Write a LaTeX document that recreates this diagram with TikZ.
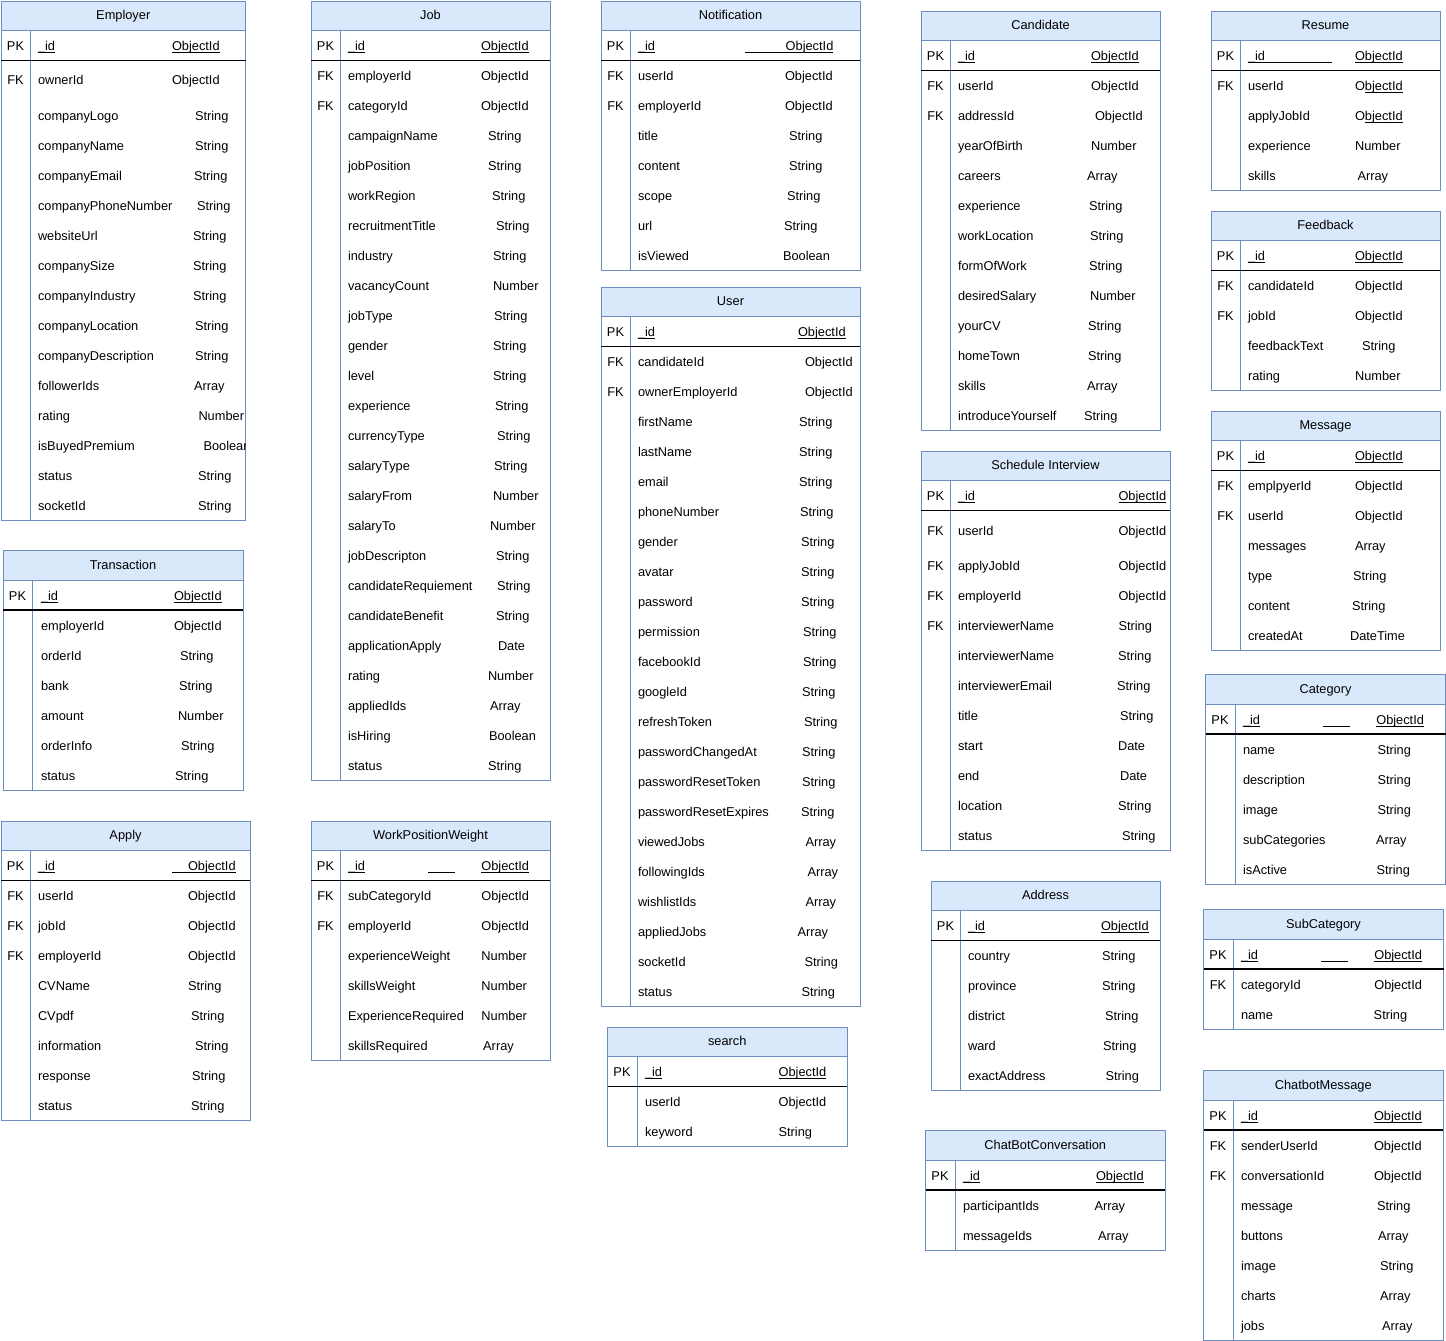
\documentclass[tikz,border=0pt]{standalone}
\usepackage{fontspec}
\setmainfont{Liberation Sans}
\definecolor{hdr}{HTML}{DAE8FC}
\definecolor{bord}{HTML}{6C8EBF}
\newcommand\ul[1]{\setbox0\hbox{#1}\rlap{\rule[-2.3pt]{\wd0}{0.9pt}}\box0}
\tikzset{
 tx/.style={inner sep=0pt,outer sep=0pt,font=\fontsize{12.8pt}{15pt}\selectfont,text=black},
 bordline/.style={draw=bord,line width=1pt},
 sepline/.style={draw=black,line width=1.2pt},
 ulline/.style={draw=black,line width=0.9pt},
}
\newcounter{rc}
\newcommand\tbl[7]{%
 \def\tname{#1}\def\kx{#2+14.5}\def\nx{#7}%
 \fill[hdr] (#2,#3) rectangle (#4,#3+29.5);
 \draw[bordline] (#2,#3) rectangle (#4,#5);
 \draw[bordline] (#2,#3+29.5) -- (#4,#3+29.5);
 \draw[bordline] (#2+29.5,#3+29.5) -- (#2+29.5,#5);
 \draw[sepline] (#2,#3+59.5) -- (#4,#3+59.5);
 \node[tx,anchor=base] (#1) at ({(#2+#4)/2},#3+18.8) {#6};}
\newcommand\rw[5]{%
 \stepcounter{rc}%
 \node[tx,anchor=base west] (\tname-n\therc) at (\nx,#2+5.3) {#3};
 \node[tx,anchor=base west] (\tname-t\therc) at (#4,#2+5.3) {#5};
 \ifx\relax#1\relax\else\node[tx,anchor=base] (\tname-k\therc) at (\kx,#2+5.3) {#1};\fi}
\newcommand\pkid{\ul{\_id}}
\newcommand\oid{\ul{ObjectId}}
\begin{document}
\begin{tikzpicture}[x=1pt,y=-1pt]
\useasboundingbox[fill=white] (0,0) rectangle (1446,1341);
% Employer
\tbl{E}{1}{1}{245.5}{520}{Employer}{38}
\rw{PK}{45}{\pkid}{172}{\oid}
\rw{FK}{79}{ownerId}{172}{ObjectId}
\rw{}{115}{companyLogo}{195}{String}
\rw{}{145}{companyName}{195}{String}
\rw{}{175}{companyEmail}{194}{String}
\rw{}{205}{companyPhoneNumber}{197}{String}
\rw{}{235}{websiteUrl}{193}{String}
\rw{}{265}{companySize}{193}{String}
\rw{}{295}{companyIndustry}{193}{String}
\rw{}{325}{companyLocation}{195}{String}
\rw{}{355}{companyDescription}{195}{String}
\rw{}{385}{followerIds}{194}{Array}
\rw{}{415}{rating}{198.5}{Number}
\begin{scope}
\clip (1,1) rectangle (245,520);
\rw{}{445}{isBuyedPremium}{203.5}{Boolean}
\end{scope}
\rw{}{475}{status}{198}{String}
\rw{}{505}{socketId}{198}{String}
% Job
\tbl{J}{311}{1}{550}{780}{Job}{348}
\rw{PK}{45}{\pkid}{481}{\oid}
\rw{FK}{75}{employerId}{481}{ObjectId}
\rw{FK}{105}{categoryId}{481}{ObjectId}
\rw{}{135}{campaignName}{488}{String}
\rw{}{165}{jobPosition}{488}{String}
\rw{}{195}{workRegion}{492}{String}
\rw{}{225}{recruitmentTitle}{496}{String}
\rw{}{255}{industry}{493}{String}
\rw{}{285}{vacancyCount}{493}{Number}
\rw{}{315}{jobType}{494}{String}
\rw{}{345}{gender}{493}{String}
\rw{}{375}{level}{493}{String}
\rw{}{405}{experience}{495}{String}
\rw{}{435}{currencyType}{497}{String}
\rw{}{465}{salaryType}{494}{String}
\rw{}{495}{salaryFrom}{493}{Number}
\rw{}{525}{salaryTo}{490}{Number}
\rw{}{555}{jobDescripton}{496}{String}
\rw{}{585}{candidateRequiement}{497}{String}
\rw{}{615}{candidateBenefit}{496}{String}
\rw{}{645}{applicationApply}{498}{Date}
\rw{}{675}{rating}{488}{Number}
\rw{}{705}{appliedIds}{490}{Array}
\rw{}{735}{isHiring}{489}{Boolean}
\rw{}{765}{status}{488}{String}
% Notification
\tbl{N}{601}{1}{860}{270}{Notification}{638}
\rw{PK}{45}{\pkid}{745}{\ul{\hspace{40.7pt}ObjectId}}
\rw{FK}{75}{userId}{785}{ObjectId}
\rw{FK}{105}{employerId}{785}{ObjectId}
\rw{}{135}{title}{789}{String}
\rw{}{165}{content}{789}{String}
\rw{}{195}{scope}{787}{String}
\rw{}{225}{url}{784}{String}
\rw{}{255}{isViewed}{783}{Boolean}
% User
\tbl{U}{601}{287}{860}{1006}{User}{638}
\rw{PK}{331}{\pkid}{798}{\oid}
\rw{FK}{361}{candidateId}{805}{ObjectId}
\rw{FK}{391}{ownerEmployerId}{805}{ObjectId}
\rw{}{421}{firstName}{799}{String}
\rw{}{451}{lastName}{799}{String}
\rw{}{481}{email}{799}{String}
\rw{}{511}{phoneNumber}{800}{String}
\rw{}{541}{gender}{801}{String}
\rw{}{571}{avatar}{801}{String}
\rw{}{601}{password}{801}{String}
\rw{}{631}{permission}{803}{String}
\rw{}{661}{facebookId}{803}{String}
\rw{}{691}{googleId}{802}{String}
\rw{}{721}{refreshToken}{804}{String}
\rw{}{751}{passwordChangedAt}{802}{String}
\rw{}{781}{passwordResetToken}{802}{String}
\rw{}{811}{passwordResetExpires}{801}{String}
\rw{}{841}{viewedJobs}{805.5}{Array}
\rw{}{871}{followingIds}{807.5}{Array}
\rw{}{901}{wishlistIds}{805.5}{Array}
\rw{}{931}{appliedJobs}{797.5}{Array}
\rw{}{961}{socketId}{804.5}{String}
\rw{}{991}{status}{801.5}{String}
% Candidate
\tbl{C}{921}{11}{1160}{430}{Candidate}{958}
\rw{PK}{55}{\pkid}{1091}{\oid}
\rw{FK}{85}{userId}{1091}{ObjectId}
\rw{FK}{115}{addressId}{1095}{ObjectId}
\rw{}{145}{yearOfBirth}{1091}{Number}
\rw{}{175}{careers}{1087}{Array}
\rw{}{205}{experience}{1089}{String}
\rw{}{235}{workLocation}{1090}{String}
\rw{}{265}{formOfWork}{1089}{String}
\rw{}{295}{desiredSalary}{1090}{Number}
\rw{}{325}{yourCV}{1088}{String}
\rw{}{355}{homeTown}{1088}{String}
\rw{}{385}{skills}{1087}{Array}
\rw{}{415}{introduceYourself}{1084}{String}
% Resume
\tbl{R}{1211}{11}{1440}{190}{Resume}{1248}
\rw{PK}{55}{\ul{\makebox[83.5pt][l]{\_id}}}{1355}{\oid}
\rw{FK}{85}{userId}{1355}{O\ul{bjectId}}
\rw{}{115}{applyJobId}{1355}{O\ul{bjectId}}
\rw{}{145}{experience}{1355}{Number}
\rw{}{175}{skills}{1357.5}{Array}
% Feedback
\tbl{F}{1211}{211}{1440}{390}{Feedback}{1248}
\rw{PK}{255}{\pkid}{1355}{\oid}
\rw{FK}{285}{candidateId}{1355}{ObjectId}
\rw{FK}{315}{jobId}{1355}{ObjectId}
\rw{}{345}{feedbackText}{1362}{String}
\rw{}{375}{rating}{1355}{Number}
% Message
\tbl{M}{1211}{411}{1440}{650}{Message}{1248}
\rw{PK}{455}{\pkid}{1355}{\oid}
\rw{FK}{485}{emplpyerId}{1355}{ObjectId}
\rw{FK}{515}{userId}{1355}{ObjectId}
\rw{}{545}{messages}{1355}{Array}
\rw{}{575}{type}{1353}{String}
\rw{}{605}{content}{1352}{String}
\rw{}{635}{createdAt}{1350}{DateTime}
% Category
\tbl{Cat}{1205.5}{674.5}{1445.5}{884}{Category}{1243}
\rw{PK}{719}{\pkid}{1376.3}{\oid}
\draw[ulline] (1323,719+7.45) -- (1349.5,719+7.45);
\rw{}{749}{name}{1377.5}{String}
\rw{}{779}{description}{1377.5}{String}
\rw{}{809}{image}{1377.5}{String}
\rw{}{839}{subCategories}{1376}{Array}
\rw{}{869}{isActive}{1376.5}{String}
% SubCategory
\tbl{S}{1203.5}{909.5}{1443.5}{1029}{SubCategory}{1241}
\rw{PK}{954}{\pkid}{1374.3}{\oid}
\draw[ulline] (1321,954+7.45) -- (1348,954+7.45);
\rw{FK}{984}{categoryId}{1374.3}{ObjectId}
\rw{}{1014}{name}{1373.7}{String}
% ChatbotMessage
\tbl{CM}{1203.5}{1070.5}{1443}{1340}{ChatbotMessage}{1241}
\rw{PK}{1115}{\pkid}{1374}{\oid}
\rw{FK}{1145}{senderUserId}{1374}{ObjectId}
\rw{FK}{1175}{conversationId}{1374}{ObjectId}
\rw{}{1205}{message}{1377}{String}
\rw{}{1235}{buttons}{1378}{Array}
\rw{}{1265}{image}{1380}{String}
\rw{}{1295}{charts}{1380}{Array}
\rw{}{1325}{jobs}{1382}{Array}
% Schedule Interview
\tbl{SI}{921}{451}{1170}{850}{Schedule Interview}{958}
\rw{PK}{495}{\pkid}{1118.5}{\oid}
\rw{FK}{530}{userId}{1118.5}{ObjectId}
\rw{FK}{565}{applyJobId}{1118.5}{ObjectId}
\rw{FK}{595}{employerId}{1118.5}{ObjectId}
\rw{FK}{625}{interviewerName}{1118.5}{String}
\rw{}{655}{interviewerName}{1118}{String}
\rw{}{685}{interviewerEmail}{1117}{String}
\rw{}{715}{title}{1120}{String}
\rw{}{745}{start}{1118}{Date}
\rw{}{775}{end}{1120}{Date}
\rw{}{805}{location}{1118}{String}
\rw{}{835}{status}{1122}{String}
% Address
\tbl{A}{931}{881}{1160}{1090}{Address}{968}
\rw{PK}{925}{\pkid}{1101}{\oid}
\rw{}{955}{country}{1102}{String}
\rw{}{985}{province}{1102}{String}
\rw{}{1015}{district}{1105}{String}
\rw{}{1045}{ward}{1103}{String}
\rw{}{1075}{exactAddress}{1105.5}{String}
% ChatBotConversation
\tbl{CC}{925.5}{1130.5}{1165}{1250}{ChatBotConversation}{963}
\rw{PK}{1175}{\pkid}{1096}{\oid}
\rw{}{1205}{participantIds}{1094.5}{Array}
\rw{}{1235}{messageIds}{1098}{Array}
% Transaction
\tbl{T}{3}{550.5}{243}{790}{Transaction}{41}
\rw{PK}{595}{\pkid}{174}{\oid}
\rw{}{625}{employerId}{174}{ObjectId}
\rw{}{655}{orderId}{180}{String}
\rw{}{685}{bank}{179}{String}
\rw{}{715}{amount}{178}{Number}
\rw{}{745}{orderInfo}{181}{String}
\rw{}{775}{status}{175}{String}
% Apply
\tbl{Ap}{1}{821}{250}{1120}{Apply}{38}
\rw{PK}{865}{\pkid}{172}{\ul{\hspace{16pt}ObjectId}}
\rw{FK}{895}{userId}{188}{ObjectId}
\rw{FK}{925}{jobId}{188}{ObjectId}
\rw{FK}{955}{employerId}{188}{ObjectId}
\rw{}{985}{CVName}{188}{String}
\rw{}{1015}{CVpdf}{191}{String}
\rw{}{1045}{information}{195}{String}
\rw{}{1075}{response}{192}{String}
\rw{}{1105}{status}{191}{String}
% WorkPositionWeight
\tbl{W}{311}{821}{550}{1060}{WorkPositionWeight}{348}
\rw{PK}{865}{\pkid}{481.4}{\oid}
\draw[ulline] (428,865+7.45) -- (454.6,865+7.45);
\rw{FK}{895}{subCategoryId}{481.4}{ObjectId}
\rw{FK}{925}{employerId}{481.4}{ObjectId}
\rw{}{955}{experienceWeight}{481.4}{Number}
\rw{}{985}{skillsWeight}{481.4}{Number}
\rw{}{1015}{ExperienceRequired}{481.4}{Number}
\rw{}{1045}{skillsRequired}{483.2}{Array}
% search
\tbl{Se}{607.5}{1027}{847}{1146}{search}{645}
\rw{PK}{1071}{\pkid}{778.6}{\oid}
\rw{}{1101}{userId}{778.6}{ObjectId}
\rw{}{1131}{keyword}{778.6}{String}
\end{tikzpicture}
\end{document}
